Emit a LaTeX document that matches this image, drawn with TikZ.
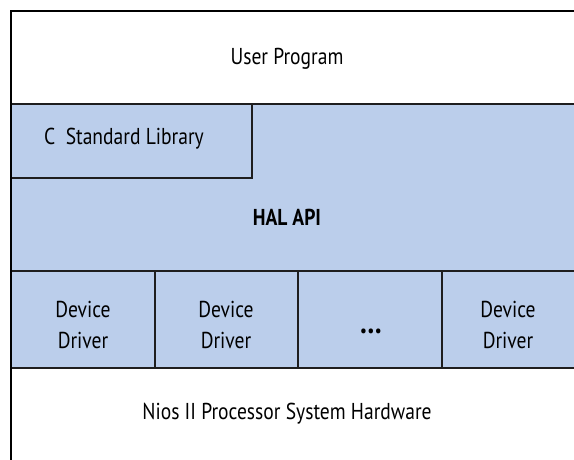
\documentclass[tikz,border=0pt]{standalone}
\usepackage{fontspec}
\setmainfont{PT Sans}[FakeStretch=0.85]
\definecolor{halblue}{RGB}{187,206,235}
\definecolor{edge}{RGB}{30,30,30}
\begin{document}
\begin{tikzpicture}[x=1pt,y=-1pt,
  lbl/.style={font=\fontsize{23}{31}\selectfont, align=center, inner sep=0pt},
  inner/.style={draw=edge, line width=1.3pt}]
\useasboundingbox (0,0) rectangle (574,459);
\begin{scope}
\clip (0,0) rectangle (574,459);
\fill[halblue] (11,104) rectangle (590,368);
\draw[inner] (11,104) -- (590,104);
\draw[inner] (252,104) -- (252,178) -- (11,178);
\draw[inner] (11,271) -- (590,271);
\draw[inner] (11,368) -- (590,368);
\draw[inner] (155,271) -- (155,368);
\draw[inner] (298,271) -- (298,368);
\draw[inner] (442,271) -- (442,368);
\draw[line width=2.6pt, black] (11,480) -- (11,11) -- (590,11);
\end{scope}
\node[lbl] (user) at (287,59) {User Program};
\node[lbl] (clib) at (124,139) {C\ \ Standard Library};
\node[lbl, font=\fontsize{23}{31}\selectfont\bfseries] (hal) at (287,217) {HAL API};
\node[lbl] (dd1) at (83,325) {Device\\Driver};
\node[lbl] (dd2) at (226,325) {Device\\Driver};
\node[lbl, font=\fontsize{32}{31}\selectfont\bfseries] (dots) at (371,331) {…};
\node[lbl] (dd4) at (508,325) {Device\\Driver};
\node[lbl] (hw) at (287,414) {Nios II Processor System Hardware};
\end{tikzpicture}
\end{document}
